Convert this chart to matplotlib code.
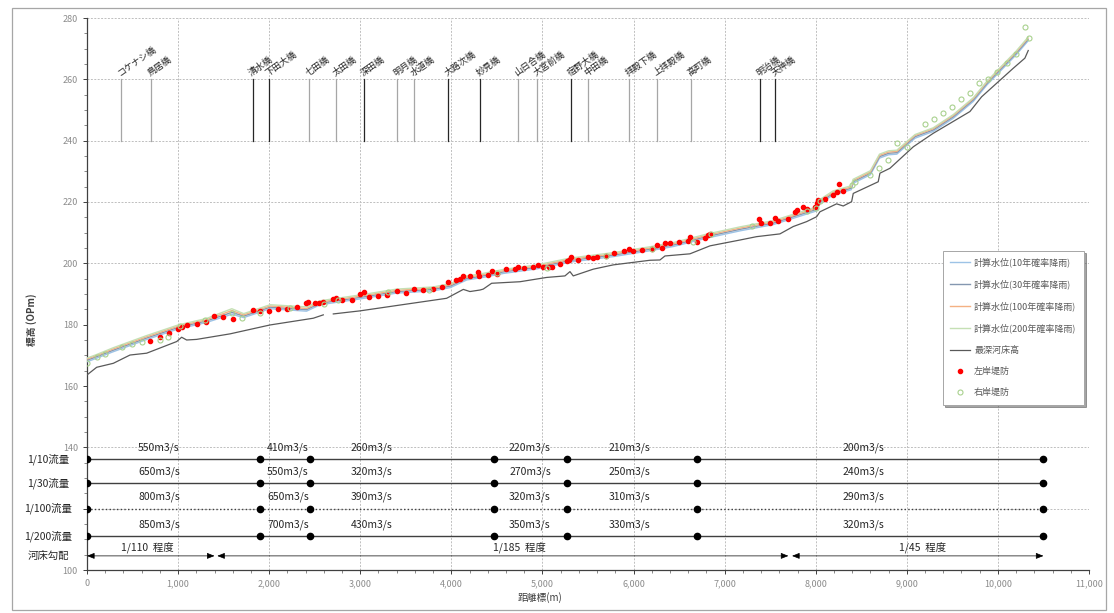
import numpy as np
import matplotlib
matplotlib.use("Agg")
import matplotlib.pyplot as plt
from matplotlib.patches import Rectangle
from matplotlib.ticker import FixedLocator, MultipleLocator

plt.rcParams['font.family'] = ['Noto Sans CJK JP', 'DejaVu Sans']

# --- water surface profiles (distance m, elevation OPm)
x_ws = [0, 100, 290, 650, 1000, 1310, 1590, 1720, 2010, 2410, 2560, 3000, 3400, 3800, 3990,
        4170, 4310, 4570, 4940, 5300, 5780, 6180, 6440, 6800, 7170, 7530, 7830, 8010, 8050, 8190,
        8390, 8410, 8600, 8700, 8800, 8890, 9090, 9290, 9510, 9730, 9880, 10020, 10200, 10330]
wl10 = [167.9, 169.0, 171.2, 175.1, 178.6, 180.7, 183.4, 182.3, 185.2, 184.4, 186.5, 188.4, 190.3, 191.0, 192.1,
        194.6, 195.2, 196.7, 198.2, 200.4, 202.2, 204.1, 205.5, 208.2, 210.6, 212.6, 215.4, 217.1, 219.6, 222.3,
        224.0, 226.1, 228.9, 234.3, 235.4, 235.6, 240.8, 243.0, 247.3, 252.8, 258.2, 262.5, 268.0, 272.5]
wl30 = [168.4, 169.5, 171.7, 175.6, 179.1, 181.2, 184.0, 182.8, 185.7, 184.9, 187.0, 188.9, 190.8, 191.5, 192.6,
        195.1, 195.7, 197.2, 198.7, 200.9, 202.7, 204.6, 206.0, 208.7, 211.1, 213.1, 215.9, 217.6, 220.1, 222.8,
        224.5, 226.6, 229.4, 234.8, 235.9, 236.1, 241.3, 243.5, 247.8, 253.3, 258.7, 263.0, 268.5, 273.0]
wl100 = [168.8, 169.9, 172.1, 176.0, 179.5, 181.6, 184.6, 183.2, 186.1, 185.3, 187.4, 189.3, 191.2, 191.9, 193.0,
         195.5, 196.1, 197.6, 199.1, 201.3, 203.1, 205.0, 206.4, 209.1, 211.5, 213.5, 216.3, 218.0, 220.5, 223.2,
         224.9, 227.0, 229.8, 235.2, 236.3, 236.5, 241.7, 243.9, 248.2, 253.7, 259.1, 263.4, 268.9, 273.4]
wl200 = [169.1, 170.2, 172.5, 176.4, 179.9, 182.0, 185.2, 183.6, 186.5, 185.8, 187.8, 189.7, 191.6, 192.3, 193.4,
         195.9, 196.5, 198.0, 199.5, 201.7, 203.5, 205.4, 206.8, 209.5, 211.9, 213.9, 216.7, 218.4, 220.9, 223.6,
         225.3, 227.4, 230.2, 235.6, 236.7, 236.9, 242.0, 244.2, 248.5, 254.0, 259.4, 263.7, 269.2, 273.7]

# --- deepest river bed
x_bed = [0, 106, 289, 472, 655, 985, 1039, 1094, 1204, 1570, 2009, 2484, 2594, 2650, 2704, 2997, 3436, 3948,
         4131, 4204, 4314, 4350, 4442, 4753, 5046, 5247, 5302, 5338, 5558, 5778, 6180, 6290, 6345, 6619, 6839,
         7168, 7351, 7607, 7753, 7900, 8010, 8046, 8229, 8302, 8394, 8412, 8686, 8705, 8815, 9071, 9290, 9693,
         9821, 10168, 10296, 10333]
bed_z = [163.6, 166.1, 167.4, 170.1, 170.7, 174.5, 175.9, 175.0, 175.2, 177.0, 179.9, 182.1, 183.2, np.nan, 183.5,
         184.5, 186.4, 188.6, 191.5, 190.8, 191.3, 191.6, 193.5, 194.0, 195.4, 195.9, 197.3, 195.9, 198.1, 199.5,
         201.0, 201.1, 202.4, 203.1, 205.7, 207.6, 208.7, 209.6, 212.0, 213.6, 215.2, 216.8, 219.4, 218.7, 220.1,
         222.8, 226.6, 229.4, 231.0, 238.0, 242.4, 249.5, 254.3, 263.6, 266.9, 269.4]

# --- left bank levee
lb_x = [692, 801, 904, 1002, 1046, 1101, 1204, 1306, 1398, 1497, 1599, 1819, 1899, 2001, 2100, 2199, 2301,
        2404, 2429, 2503, 2550, 2594, 2704, 2733, 2796, 2906, 2997, 3044, 3099, 3198, 3297, 3400, 3502, 3593,
        3692, 3802, 3894, 3959, 4050, 4094, 4131, 4204, 4295, 4306, 4405, 4442, 4497, 4599, 4698, 4727, 4800,
        4899, 4947, 5002, 5075, 5101, 5192, 5266, 5294, 5309, 5393, 5503, 5558, 5595, 5697, 5788, 5895, 5953,
        5997, 6096, 6199, 6253, 6308, 6345, 6400, 6502, 6601, 6619, 6699, 6787, 6820, 6839, 7380, 7395, 7497,
        7552, 7589, 7698, 7772, 7790, 7856, 7900, 7991, 8017, 8028, 8101, 8192, 8229, 8258, 8295]
lb_y = [174.8, 175.9, 177.2, 178.6, 179.1, 179.8, 180.2, 181.0, 182.8, 182.4, 181.9, 184.8, 184.6, 184.6, 185.0,
        185.1, 185.9, 187.0, 187.3, 187.0, 187.2, 187.4, 188.3, 188.6, 188.1, 188.1, 190.0, 190.6, 188.9, 189.2,
        189.7, 191.1, 190.4, 191.5, 191.3, 191.5, 192.2, 193.8, 194.6, 194.8, 195.9, 196.0, 197.3, 195.9, 196.2,
        197.6, 196.5, 198.1, 198.1, 198.9, 198.4, 198.7, 199.5, 198.9, 198.9, 198.9, 199.8, 200.6, 201.1, 202.2,
        201.1, 202.2, 201.7, 202.2, 202.4, 203.5, 204.0, 204.7, 204.0, 204.4, 204.7, 205.9, 204.9, 206.7, 206.7,
        207.1, 207.4, 208.7, 207.1, 208.4, 209.3, 209.6, 214.3, 213.3, 213.3, 214.7, 213.9, 214.3, 216.8, 217.4,
        218.3, 217.6, 218.5, 219.8, 220.7, 221.1, 222.2, 223.4, 225.8, 223.7]

# --- right bank levee
rb_x = [0, 106, 198, 381, 491, 600, 801, 892, 1021, 1295, 1588, 1698, 1899, 2228, 2600, 2750, 3300, 3750,
        4500, 5050, 5700, 6200, 6650, 6850, 7300, 7900, 8000, 8050, 8394, 8430, 8595, 8697, 8796, 8895, 8998,
        9200, 9298, 9393, 9492, 9591, 9693, 9792, 9894, 9993, 10096, 10195, 10296, 10337]
rb_y = [167.4, 169.4, 170.3, 172.8, 173.6, 174.4, 175.0, 175.9, 179.6, 181.5, 183.7, 182.3, 183.7, 185.4, 186.8,
        188.2, 190.5, 191.2, 197.0, 198.5, 202.3, 204.8, 207.0, 209.6, 212.3, 217.0, 218.0, 220.2, 225.6, 226.6,
        228.8, 231.0, 233.7, 239.1, 238.0, 245.3, 247.0, 248.9, 251.1, 253.7, 255.4, 258.7, 260.1, 262.5, 265.4,
        268.2, 277.0, 273.4]

# --- bridges
bridge_names = ['コケナシ橋', '鳥居橋', '清水橋', '下田大橋', '七田橋', '太田橋', '深田橋', '明月橋', '水道橋',
                '大路次橋', '妙見橋', '山日合橋', '大宮前橋', '宿野大橋', '中田橋', '拝殿下橋', '上拝殿橋',
                '高町橋', '明治橋', '天神橋']
bridge_x = [370, 703, 1819, 1998, 2437, 2733, 3041, 3403, 3589, 3963, 4314, 4731, 4940, 5313, 5499, 5950,
            6257, 6630, 7387, 7552]
dark_bridges = ['清水橋', '下田大橋', '深田橋', '大路次橋', '妙見橋', '宿野大橋', '明治橋', '天神橋']

# --- design discharge table
flow_rows = ['1/10流量', '1/30流量', '1/100流量', '1/200流量']
flow_breaks = [0, 1900, 2450, 4470, 5270, 6700, 10500]
flow_label_x = [790, 2206, 3128, 4863, 5960, 8529]
flows = [[550, 410, 260, 220, 210, 200],
         [650, 550, 320, 270, 250, 240],
         [800, 650, 390, 320, 310, 290],
         [850, 700, 430, 350, 330, 320]]
slope_ranges = [(0, 1400), (1430, 7700), (7740, 10500)]
slope_labels = ['1/110  程度', '1/185  程度', '1/45  程度']
slope_label_x = [660, 4750, 9170]

W, H = 1114, 613
fig = plt.figure(figsize=(W / 100, H / 100), dpi=100)
ax = fig.add_axes([87 / W, 1 - 570 / H, (1089 - 87) / W, (570 - 18) / H])
ax.set_xlim(0, 11000)
ax.set_ylim(100, 280)

grid_kw = dict(color='#BFBFBF', lw=0.7, ls=(0, (2, 1.5)), zorder=0)
for gx in range(1000, 11001, 1000):
    ax.axvline(gx, **grid_kw)
for gy in [120, 140, 200, 220, 240, 260, 280]:
    ax.axhline(gy, **grid_kw)

ax.plot(x_ws, wl10, color='#9DC3E6', lw=1.0, label='計算水位(10年確率降雨)', zorder=3)
ax.plot(x_ws, wl30, color='#8497B0', lw=1.0, label='計算水位(30年確率降雨)', zorder=3)
ax.plot(x_ws, wl100, color='#F4B183', lw=1.0, label='計算水位(100年確率降雨)', zorder=3)
ax.plot(x_ws, wl200, color='#C5E0B4', lw=1.0, label='計算水位(200年確率降雨)', zorder=3)
ax.plot(x_bed, bed_z, color='#595959', lw=0.9, label='最深河床高', zorder=3)
ax.plot(lb_x, lb_y, ls='none', marker='o', ms=3.0, mfc='#FF0000', mec='#FF0000', label='左岸堤防', zorder=4)
ax.plot(rb_x, rb_y, ls='none', marker='o', ms=3.6, mfc='none', mec='#A9D18E', mew=0.8, label='右岸堤防', zorder=4)

# bridges
for name, bx in zip(bridge_names, bridge_x):
    col = '#262626' if name in dark_bridges else '#A6A6A6'
    ax.plot([bx, bx], [240, 260], color=col, lw=0.9, zorder=2)
    ax.text(bx, 260.6, name, rotation=35, rotation_mode='anchor', ha='left', va='bottom',
            fontsize=6.5, color='#262626')

# discharge table
row_y = [136.2, 128.4, 120.0, 111.1]
for lab, yy, vals in zip(flow_rows, row_y, flows):
    ls = ':' if lab == '1/100流量' else '-'
    ax.plot([flow_breaks[0], flow_breaks[-1]], [yy, yy], color='#404040', lw=1.0, ls=ls, zorder=3)
    ax.plot(flow_breaks, [yy] * len(flow_breaks), ls='none', marker='o', ms=4.5, color='black', zorder=4)
    for q, lx in zip(vals, flow_label_x):
        ax.text(lx, yy + 3.8, f'{q}m3/s', ha='center', va='center', fontsize=7.5, color='#262626')
    ax.text(-428, yy, lab, ha='center', va='center', fontsize=7.5, color='#262626', clip_on=False)

slope_y = 104.6
ax.text(-428, slope_y, '河床勾配', ha='center', va='center', fontsize=7.5, color='#262626', clip_on=False)
for (s0, s1), lab, lx in zip(slope_ranges, slope_labels, slope_label_x):
    ax.annotate('', xy=(s1, slope_y), xytext=(s0, slope_y),
                arrowprops=dict(arrowstyle='<|-|>,head_length=0.45,head_width=0.18', color='black',
                                lw=0.5, shrinkA=0, shrinkB=0))
    ax.text(lx, slope_y + 2.8, lab, ha='center', va='center', fontsize=7.5, color='#262626')

# axes styling
for s in ['top', 'right']:
    ax.spines[s].set_visible(False)
for s in ['left', 'bottom']:
    ax.spines[s].set_color('#404040')
    ax.spines[s].set_linewidth(0.9)

ax.xaxis.set_major_locator(FixedLocator(range(0, 11001, 1000)))
ax.set_xticklabels([f'{v:,}' for v in range(0, 11001, 1000)])
ax.xaxis.set_minor_locator(MultipleLocator(200))
yt = list(range(100, 281, 20))
ax.yaxis.set_major_locator(FixedLocator(yt))
ax.set_yticklabels(['' if v == 120 else str(v) for v in yt])
ax.yaxis.set_minor_locator(MultipleLocator(5))
ax.tick_params(which='major', direction='out', length=3, width=0.7, color='#404040',
               labelsize=6.5, labelcolor='#8C8C8C')
ax.tick_params(which='minor', direction='out', length=2, width=0.5, color='#595959')

fig.text(32 / W, 1 - 320 / H, '標高 (OPm)', rotation=90, ha='center', va='center',
         fontsize=7, color='#404040', fontweight='bold')
fig.text(540 / W, 1 - 598 / H, '距離標(m)', ha='center', va='center', fontsize=7, color='#404040')

leg = ax.legend(loc='upper left', bbox_to_anchor=((938 - 87) / 1002, (570 - 246) / 552),
                fontsize=6.5, labelspacing=1.35, handlelength=2.2, handletextpad=0.5,
                borderpad=0.8, frameon=True, fancybox=False, shadow=True, edgecolor='#A6A6A6')
leg.get_frame().set_linewidth(0.7)
for t in leg.get_texts():
    t.set_color('#595959')

fig.patches.append(Rectangle((12 / W, 3 / H), (1106 - 12) / W, (610 - 8) / H, transform=fig.transFigure,
                             fill=False, edgecolor='#A6A6A6', lw=0.9))

fig.savefig('out.png', dpi=100)
